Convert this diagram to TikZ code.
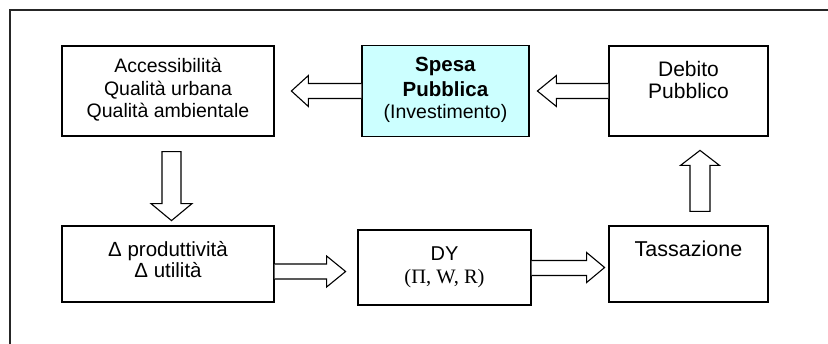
\documentclass[tikz,border=0pt]{standalone}
\usepackage{fontspec}
\setmainfont{Liberation Sans}
\newfontfamily\seriffont{Liberation Serif}
\usetikzlibrary{calc}
\definecolor{spesafill}{HTML}{CCFFFF}
\tikzset{
  box/.style={draw=black, line width=1.2pt, rectangle, inner sep=0pt},
  txt/.style={align=center, anchor=base, inner sep=0pt},
  barrow/.style={draw=black, line width=1.1pt, fill=white, line join=miter},
  frame/.style={draw=black!85, line width=1.1pt}
}
\begin{document}
\begin{tikzpicture}[x=1pt,y=-1pt]
\useasboundingbox (0,0) rectangle (828,343);
\clip (0,0) rectangle (828,343);
\fill[white] (0,0) rectangle (828,343);
\draw[frame] (10,10) rectangle (850,370);

% boxes
\node[box, minimum width=212pt, minimum height=90pt] (acc) at (168,91) {};
\node[box, fill=spesafill, minimum width=167pt, minimum height=91pt] (spesa) at (445.5,91) {};
\node[box, minimum width=159pt, minimum height=90pt] (debito) at (688.5,91) {};
\node[box, minimum width=212pt, minimum height=76pt] (delta) at (168,264) {};
\node[box, minimum width=173pt, minimum height=75pt] (dy) at (444.5,267.5) {};
\node[box, minimum width=159pt, minimum height=76pt] (tass) at (688.5,264) {};

% texts (anchor=base is the baseline of the last line)
\node[txt, font=\fontsize{19.5}{22.4}\selectfont] (acctxt) at ($(acc.north)+(0,72.1)$)
  {Accessibilità\\Qualità urbana\\Qualità ambientale};
\node[txt, font=\fontsize{20.5}{24.5}\selectfont] (spesatxt) at ($(spesa.north)+(0,74)$)
  {\textbf{Spesa}\\\textbf{Pubblica}\\[-2pt]{\fontsize{19.5}{22}\selectfont(Investimento)}};
\node[txt, font=\fontsize{21}{22.6}\selectfont] (debitotxt) at ($(debito.north)+(0,53.3)$)
  {Debito\\Pubblico};
\node[txt, font=\fontsize{20.5}{21}\selectfont] (deltatxt) at ($(delta.north)+(0,52.3)$)
  {Δ produttività\\Δ utilità};
\node[txt, font=\fontsize{20}{23}\selectfont] (dytxt) at ($(dy.north)+(0,54)$)
  {DY\\{\seriffont\fontsize{20.5}{23}\selectfont(Π, W, R)}};
\node[txt, font=\fontsize{21.5}{24}\selectfont] (tasstxt) at ($(tass.north)+(0,31)$)
  {Tassazione};

% block arrows
% spesa -> acc
\draw[barrow] ($(spesa.west)+(0,-7.5)$) -- ++(-53,0) -- ++(0,-8) -- ++(-17,15.5)
  -- ++(17,15.5) -- ++(0,-8) -- ($(spesa.west)+(0,7.5)$);
% debito -> spesa
\draw[barrow] ($(debito.west)+(0,-7.5)$) -- ++(-52,0) -- ++(0,-8) -- ++(-19,15.5)
  -- ++(19,15.5) -- ++(0,-8) -- ($(debito.west)+(0,7.5)$);
% acc -> delta
\draw[barrow] ($(acc.south)+(-6,15)$) -- ++(0,52) -- ++(-11,0) -- ++(20.5,17)
  -- ++(20.5,-17) -- ++(-11,0) -- ++(0,-52) -- cycle;
% delta -> dy
\draw[barrow] ($(delta.east)+(0,0)$) -- ++(52,0) -- ++(0,-8) -- ++(19,15.5)
  -- ++(-19,15.5) -- ++(0,-8) -- ($(delta.east)+(0,15)$);
% dy -> tass
\draw[barrow] ($(dy.east)+(0,-7)$) -- ++(55,0) -- ++(0,-8) -- ++(18,15)
  -- ++(-18,15) -- ++(0,-7) -- ($(dy.east)+(0,8)$);
% tass -> debito
\draw[barrow] ($(tass.north)+(1.5,-14)$) -- ++(0,-46) -- ++(-9.5,0) -- ++(19.5,-15)
  -- ++(19.5,15) -- ++(-9.5,0) -- ++(0,46) -- cycle;
\end{tikzpicture}
\end{document}
